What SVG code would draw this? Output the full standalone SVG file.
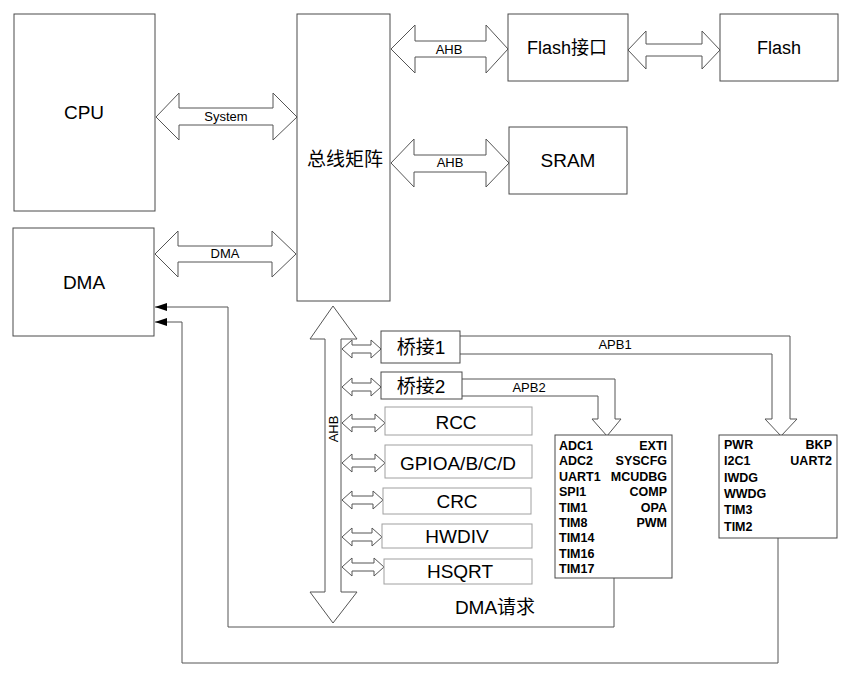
<svg xmlns="http://www.w3.org/2000/svg" width="853" height="677" viewBox="0 0 853 677">
<style>
.box{fill:#fff;stroke:#4a4a4a;stroke-width:1}
.lbox{fill:#fff;stroke:#a0a0a0;stroke-width:1}
.barrow{fill:#fff;stroke:#555;stroke-width:1}
.line{fill:none;stroke:#555;stroke-width:1}
text{font-family:"Liberation Sans","Noto Sans CJK SC",Arial,sans-serif;fill:#000}
.big{font-size:19px;text-anchor:middle}
.lbl{font-size:13px;text-anchor:middle}
.lst{font-size:12.5px;font-weight:bold}
.r{text-anchor:end}
</style>
<defs>
<marker id="ah" viewBox="0 0 12 8" refX="12" refY="4" markerWidth="12" markerHeight="8" markerUnits="userSpaceOnUse" orient="auto">
<path d="M0,0 L12,4 L0,8 z" fill="#000"/>
</marker>
</defs>
<rect width="853" height="677" fill="#fff"/>

<g id="connectors">
<polygon class="barrow" points="156,117 179,93 179,108 273,108 273,93 297,117 273,140 273,125 179,125 179,140"/>
<text class="lbl" x="226" y="121">System</text>
<polygon class="barrow" points="155,254 178,231 178,246 272,246 272,231 296,254 272,277 272,262 178,262 178,277"/>
<text class="lbl" x="225" y="258">DMA</text>
<polygon class="barrow" points="391,49 415,25 415,41 486,41 486,25 508,49 486,73 486,57 415,57 415,73"/>
<text class="lbl" x="449" y="54">AHB</text>
<polygon class="barrow" points="628,50 646,31 646,44 702,44 702,31 720,50 702,69 702,56 646,56 646,69"/>
<polygon class="barrow" points="391,163 414,139 414,155 486,155 486,139 509,163 486,187 486,172 414,172 414,187"/>
<text class="lbl" x="450" y="167">AHB</text>
<polygon class="barrow" points="333,306 357,339 341,339 341,592 357,592 333,623 310,592 325,592 325,339 310,339"/>
<text class="lbl" transform="translate(338,429) rotate(-90)" x="0" y="0">AHB</text>
<polygon class="barrow" points="342,349 352,340 352,345 371,345 371,340 381,349 371,358 371,353 352,353 352,358"/>
<polygon class="barrow" points="342,387 352,378 352,383 371,383 371,378 381,387 371,396 371,391 352,391 352,396"/>
<polygon class="barrow" points="342,423 352,414 352,419 375,419 375,414 385,423 375,432 375,427 352,427 352,432"/>
<polygon class="barrow" points="342,463 352,454 352,459 375,459 375,454 385,463 375,472 375,467 352,467 352,472"/>
<polygon class="barrow" points="342,500 352,491 352,496 373,496 373,491 383,500 373,509 373,504 352,504 352,509"/>
<polygon class="barrow" points="342,537 352,528 352,533 372,533 372,528 382,537 372,546 372,541 352,541 352,546"/>
<polygon class="barrow" points="342,567 352,558 352,563 374,563 374,558 384,567 374,576 374,571 352,571 352,576"/>
<path class="barrow" d="M460,336 H790 V419 H797 L781,436 L765,419 H772 V354 H460"/>
<text class="lbl" x="615" y="349">APB1</text>
<path class="barrow" d="M462,379 H615 V419 H621 L607,436 L592,419 H598 V396 H462"/>
<text class="lbl" x="529" y="392">APB2</text>
<path class="line" d="M614,578 V627 H228 V307 H155" marker-end="url(#ah)"/>
<path class="line" d="M778,538 V663 H182 V322 H155" marker-end="url(#ah)"/>
</g>

<g id="cpu"><rect class="box" x="14" y="14" width="141" height="197"/><text class="big" x="84" y="119">CPU</text></g>
<g id="dma"><rect class="box" x="13" y="228" width="141" height="108"/><text class="big" x="84" y="289">DMA</text></g>
<g id="busmatrix"><rect class="box" x="297" y="14" width="93" height="287"/><text class="big" x="345" y="166">总线矩阵</text></g>
<g id="flashif"><rect class="box" x="508" y="14" width="120" height="67"/><text class="big" x="567" y="54" style="font-size:18px">Flash接口</text></g>
<g id="flash"><rect class="box" x="720" y="14" width="118" height="67"/><text class="big" x="779" y="54" style="font-size:18px">Flash</text></g>
<g id="sram"><rect class="box" x="509" y="127" width="118" height="67"/><text class="big" x="568" y="167">SRAM</text></g>
<g id="bridge1"><rect class="box" x="381" y="331" width="79" height="32"/><text class="big" x="421" y="354">桥接1</text></g>
<g id="bridge2"><rect class="box" x="381" y="372" width="81" height="27"/><text class="big" x="421" y="393">桥接2</text></g>
<g id="rcc"><rect class="lbox" x="385" y="407" width="147" height="28"/><text class="big" x="456" y="429">RCC</text></g>
<g id="gpio"><rect class="lbox" x="385" y="445" width="147" height="33"/><text class="big" x="458" y="470">GPIOA/B/C/D</text></g>
<g id="crc"><rect class="lbox" x="383" y="488" width="148" height="26"/><text class="big" x="457" y="508">CRC</text></g>
<g id="hwdiv"><rect class="lbox" x="382" y="524" width="150" height="24"/><text class="big" x="457" y="543">HWDIV</text></g>
<g id="hsqrt"><rect class="lbox" x="384" y="559" width="148" height="25"/><text class="big" x="460" y="578">HSQRT</text></g>
<g id="dmareq"><text class="big" x="495" y="614">DMA请求</text></g>

<g id="apb2periph">
<rect class="box" x="555" y="435" width="117" height="143"/>
<text class="lst" x="559" y="450">ADC1</text>
<text class="lst" x="559" y="465">ADC2</text>
<text class="lst" x="559" y="481">UART1</text>
<text class="lst" x="559" y="496">SPI1</text>
<text class="lst" x="559" y="512">TIM1</text>
<text class="lst" x="559" y="527">TIM8</text>
<text class="lst" x="559" y="542">TIM14</text>
<text class="lst" x="559" y="558">TIM16</text>
<text class="lst" x="559" y="573">TIM17</text>
<text class="lst r" x="667" y="450">EXTI</text>
<text class="lst r" x="667" y="465">SYSCFG</text>
<text class="lst r" x="667" y="481">MCUDBG</text>
<text class="lst r" x="667" y="496">COMP</text>
<text class="lst r" x="667" y="512">OPA</text>
<text class="lst r" x="667" y="527">PWM</text>
</g>

<g id="apb1periph">
<rect class="box" x="719" y="435" width="118" height="103"/>
<text class="lst" x="724" y="449">PWR</text>
<text class="lst" x="724" y="465">I2C1</text>
<text class="lst" x="724" y="482">IWDG</text>
<text class="lst" x="724" y="498">WWDG</text>
<text class="lst" x="724" y="514">TIM3</text>
<text class="lst" x="724" y="531">TIM2</text>
<text class="lst r" x="832" y="449">BKP</text>
<text class="lst r" x="832" y="465">UART2</text>
</g>
</svg>
